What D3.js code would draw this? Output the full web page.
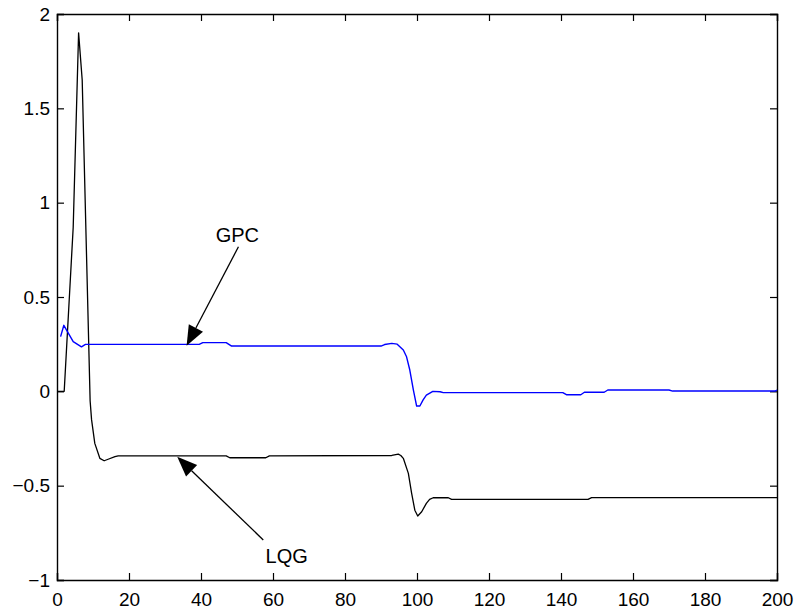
<!DOCTYPE html>
<html>
<head>
<meta charset="utf-8">
<script src="https://cdn.jsdelivr.net/npm/d3@7"></script>
<style>
  body { margin: 0; background: #fff; }
  svg text { font-family: Arial, "Liberation Sans", sans-serif; fill: #000; }
</style>
</head>
<body>
<div id="chart"></div>
<script>
// LQG response (black)
const lqgX = [0, 2, 4.5, 6, 7, 9.2, 9.6, 10.5, 11.9, 13.1, 14.2, 16.1, 17, 47, 48, 58, 59, 93, 94.8, 95.5, 96.2, 97.6, 98.5, 99.4, 100.2, 101.3, 102.6, 103.5, 104.5, 108.7, 109.6, 147.5, 148.5, 200];
const lqgY = [0, 0, 0.87, 1.9, 1.65, -0.05, -0.15, -0.276, -0.355, -0.368, -0.36, -0.346, -0.342, -0.342, -0.352, -0.352, -0.342, -0.340, -0.333, -0.34, -0.355, -0.435, -0.54, -0.63, -0.661, -0.638, -0.594, -0.573, -0.564, -0.564, -0.573, -0.573, -0.563, -0.563];

// GPC response (blue)
const gpcX = [1, 1.9, 3.1, 4.5, 6.8, 7.9, 39.5, 40.5, 47, 48.5, 90, 91, 93, 94.5, 96.2, 97.1, 98, 99, 99.9, 100.8, 101.7, 102.6, 104.4, 106.4, 107.3, 140.5, 141.5, 145.5, 146.5, 152, 153, 170, 171, 199.5, 200];
const gpcY = [0.29, 0.35, 0.31, 0.263, 0.236, 0.249, 0.249, 0.258, 0.258, 0.240, 0.240, 0.248, 0.254, 0.25, 0.219, 0.183, 0.113, 0.007, -0.078, -0.078, -0.045, -0.02, 0.0, -0.002, -0.007, -0.007, -0.018, -0.018, -0.005, -0.005, 0.007, 0.007, 0.0015, 0.0015, 0.007];

const xTicks = [0, 20, 40, 60, 80, 100, 120, 140, 160, 180, 200];
const yTicks = [-1, -0.5, 0, 0.5, 1, 1.5, 2];

// annotations: label, label position, arrow start, arrow tip (data units)
const noteText = ["GPC", "LQG"];
const noteAt = [[50.1, 0.793], [63.8, -0.908]];
const noteFrom = [[50.4, 0.766], [57.3, -0.788]];
const noteTip = [[36.0, 0.242], [33.4, -0.347]];

const W = 799, H = 613;
const margin = {left: 57, right: 22, top: 14, bottom: 33};

const svg = d3.select("#chart").append("svg")
    .attr("width", W)
    .attr("height", H);
svg.append("rect").attr("width", W).attr("height", H).attr("fill", "#fff");

const x = d3.scaleLinear().domain([0, 200]).range([margin.left, W - margin.right]);
const y = d3.scaleLinear().domain([-1, 2]).range([H - margin.bottom, margin.top]);

const fmt = d => d3.format("")(d);

// bottom axis
svg.append("g")
    .attr("transform", `translate(0,${y(-1)})`)
    .call(d3.axisBottom(x).tickValues(xTicks).tickSize(-7).tickPadding(13).tickFormat(fmt));
// left axis
svg.append("g")
    .attr("transform", `translate(${x(0)},0)`)
    .call(d3.axisLeft(y).tickValues(yTicks).tickSize(-7).tickPadding(7).tickFormat(fmt));
// top and right (box, no labels)
svg.append("g")
    .attr("transform", `translate(0,${y(2)})`)
    .call(d3.axisTop(x).tickValues(xTicks).tickSize(-7).tickFormat(""));
svg.append("g")
    .attr("transform", `translate(${x(200)},0)`)
    .call(d3.axisRight(y).tickValues(yTicks).tickSize(-7).tickFormat(""));

svg.selectAll(".domain").attr("stroke", "#000").attr("stroke-width", 1.4);
svg.selectAll(".tick line").attr("stroke", "#000").attr("stroke-width", 1.2);
svg.selectAll(".tick text")
    .attr("fill", "#000")
    .style("font-family", "Arial, 'Liberation Sans', sans-serif")
    .style("font-size", "19px");

const line = d3.line().x(d => x(d[0])).y(d => y(d[1]));

svg.append("path")
    .datum(lqgX.map((v, i) => [v, lqgY[i]]))
    .attr("fill", "none")
    .attr("stroke", "#000")
    .attr("stroke-width", 1.3)
    .attr("stroke-linejoin", "round")
    .attr("d", line);

svg.append("path")
    .datum(gpcX.map((v, i) => [v, gpcY[i]]))
    .attr("fill", "none")
    .attr("stroke", "#0000ff")
    .attr("stroke-width", 1.4)
    .attr("stroke-linejoin", "round")
    .attr("d", line);

// annotation arrows
noteText.forEach((t, i) => {
    const x0 = x(noteFrom[i][0]), y0 = y(noteFrom[i][1]);
    const x1 = x(noteTip[i][0]), y1 = y(noteTip[i][1]);
    const len = Math.hypot(x1 - x0, y1 - y0);
    const ux = (x1 - x0) / len, uy = (y1 - y0) / len;
    const bx = x1 - 20 * ux, by = y1 - 20 * uy;
    svg.append("line")
        .attr("x1", x0).attr("y1", y0)
        .attr("x2", bx).attr("y2", by)
        .attr("stroke", "#000").attr("stroke-width", 1.3);
    svg.append("path")
        .attr("d", `M${x1},${y1}L${bx + 8 * -uy},${by + 8 * ux}L${bx - 8 * -uy},${by - 8 * ux}Z`)
        .attr("fill", "#000");
    svg.append("text")
        .attr("x", x(noteAt[i][0]))
        .attr("y", y(noteAt[i][1]))
        .attr("text-anchor", "middle")
        .style("font-size", "20px")
        .text(t);
});
</script>
</body>
</html>
